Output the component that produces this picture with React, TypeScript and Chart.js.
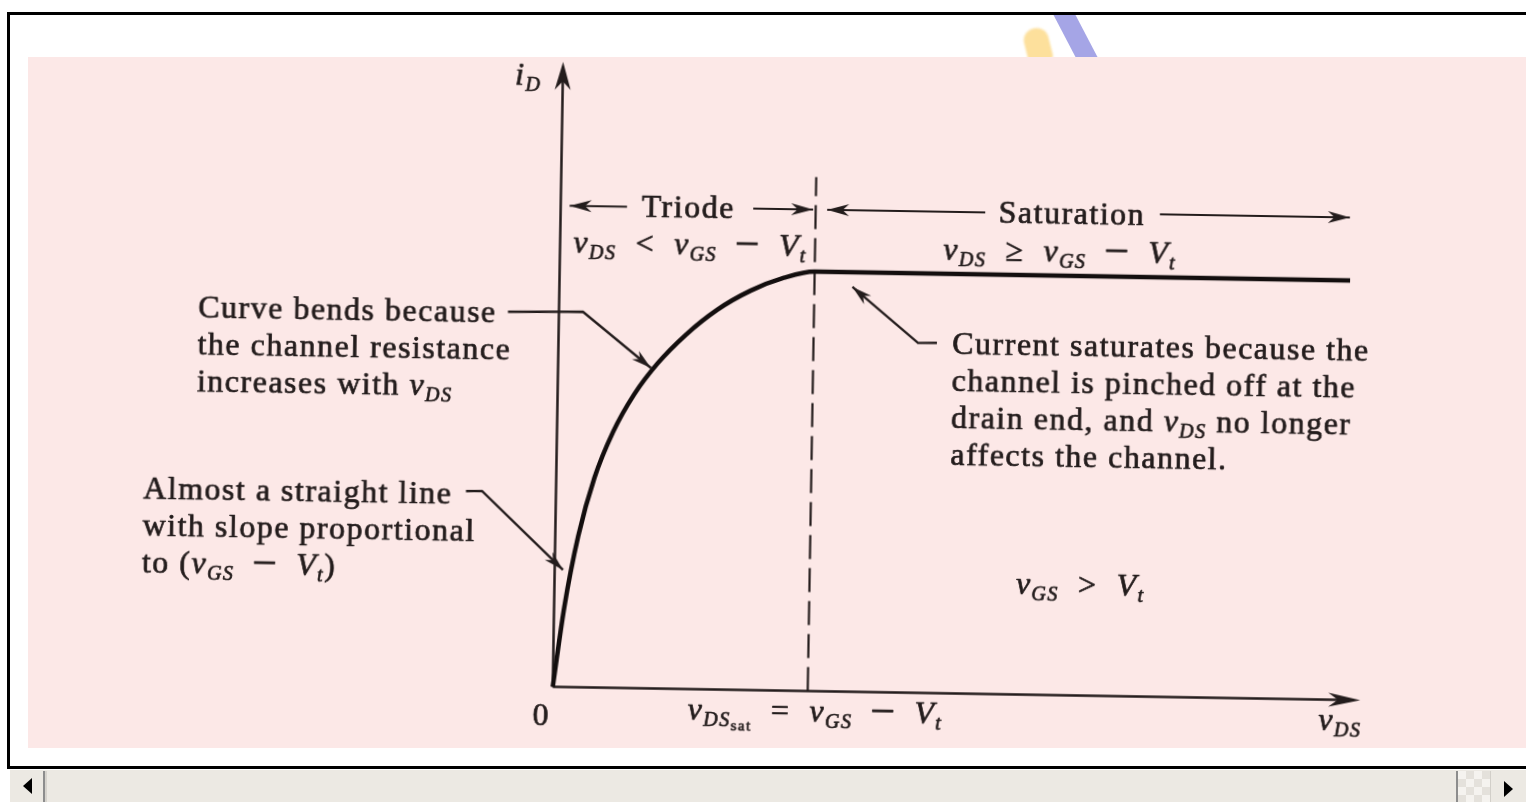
import React, { useEffect, useRef } from "react";
import { Chart, registerables } from "chart.js";

Chart.register(...registerables);

// Output characteristic of an enhancement MOSFET, normalized:
// v_DS in units of v_DSsat, i_D in units of the saturation current.
const TRIODE_VDS = [0, 0.04, 0.09, 0.15, 0.22, 0.3, 0.39, 0.5, 0.62, 0.75, 0.88, 1.0];
const TRIODE_ID = [0, 0.19, 0.36, 0.5, 0.61, 0.7, 0.775, 0.845, 0.905, 0.952, 0.984, 1.0];
const SATURATION_VDS = [1.0, 3.1];
const SATURATION_ID = [1.0, 1.0];
const VDS_SAT = 1.0;

// Axis extents (arrow tips) and visible window
const X_AXIS_END = 3.167;
const Y_AXIS_END = 1.49;
const X_MAX = 3.2;
const Y_MAX = 1.5;
const DASH_TOP = 1.225;

// Rich text: [text, style] with n = roman, i = italic, s = italic subscript,
// ss = small roman sub-subscript, m = enlarged operator
type Seg = [string, string];

const MINUS = "\u200A − \u200A";
const ORIGIN_LABEL = "0";
const Y_AXIS_LABEL: Seg[] = [["i", "i"], ["D", "s"]];
const X_AXIS_LABEL: Seg[] = [["v", "i"], ["DS", "s"]];
const VDS_SAT_LABEL: Seg[] = [["v", "i"], ["DS", "s"], ["sat", "ss"], ["  =  ", "n"], ["v", "i"], ["GS", "s"], [MINUS, "m"], ["V", "i"], ["t", "s"]];
const REGION_NAMES = ["Triode", "Saturation"];
const TRIODE_CONDITION: Seg[] = [["v", "i"], ["DS", "s"], ["  <  ", "n"], ["v", "i"], ["GS", "s"], [MINUS, "m"], ["V", "i"], ["t", "s"]];
const SATURATION_CONDITION: Seg[] = [["v", "i"], ["DS", "s"], ["  ≥  ", "n"], ["v", "i"], ["GS", "s"], [MINUS, "m"], ["V", "i"], ["t", "s"]];
const GATE_CONDITION: Seg[] = [["v", "i"], ["GS", "s"], ["  >  ", "n"], ["V", "i"], ["t", "s"]];

const NOTE_BENDS: Seg[][] = [
  [["Curve bends because", "n"]],
  [["the channel resistance", "n"]],
  [["increases with ", "n"], ["v", "i"], ["DS", "s"]],
];
const NOTE_LINEAR: Seg[][] = [
  [["Almost a straight line", "n"]],
  [["with slope proportional", "n"]],
  [["to (", "n"], ["v", "i"], ["GS", "s"], [MINUS, "m"], ["V", "i"], ["t", "s"], [")", "n"]],
];
const NOTE_SATURATES: Seg[][] = [
  [["Current saturates because the", "n"]],
  [["channel is pinched off at the", "n"]],
  [["drain end, and ", "n"], ["v", "i"], ["DS", "s"], [" no longer", "n"]],
  [["affects the channel.", "n"]],
];

const INK = "#231c1c";
const CURVE_INK = "#130e0e";
const FAMILY = '"Liberation Serif", "Times New Roman", serif';
const LINE_H = 37;

function fontOf(style: string) {
  if (style === "i") return `italic 32px ${FAMILY}`;
  if (style === "s") return `italic 20px ${FAMILY}`;
  if (style === "ss") return `15px ${FAMILY}`;
  if (style === "m") return `44px ${FAMILY}`;
  return `32px ${FAMILY}`;
}
function dyOf(style: string) {
  if (style === "s") return 6;
  if (style === "ss") return 10;
  if (style === "m") return 3;
  return 0;
}

function drawRich(ctx: CanvasRenderingContext2D, segs: Seg[], x: number, y: number, align: "left" | "center") {
  let total = 0;
  for (const [t, st] of segs) {
    ctx.font = fontOf(st);
    total += ctx.measureText(t).width;
  }
  let cx = align === "center" ? x - total / 2 : x;
  ctx.save();
  ctx.lineWidth = 0.7;
  ctx.lineJoin = "round";
  for (const [t, st] of segs) {
    ctx.font = fontOf(st);
    ctx.fillText(t, cx, y + dyOf(st));
    ctx.strokeText(t, cx, y + dyOf(st));
    cx += ctx.measureText(t).width;
  }
  ctx.restore();
}

function drawBlock(ctx: CanvasRenderingContext2D, lines: Seg[][], x: number, y: number) {
  lines.forEach((ln, i) => drawRich(ctx, ln, x, y + i * LINE_H, "left"));
}

function arrowHead(ctx: CanvasRenderingContext2D, tx: number, ty: number, fx: number, fy: number, len: number, half: number) {
  const a = Math.atan2(ty - fy, tx - fx);
  const ux = Math.cos(a), uy = Math.sin(a);
  const px = -uy, py = ux;
  ctx.beginPath();
  ctx.moveTo(tx, ty);
  ctx.lineTo(tx - ux * len + px * half, ty - uy * len + py * half);
  ctx.lineTo(tx - ux * len * 0.7, ty - uy * len * 0.7);
  ctx.lineTo(tx - ux * len - px * half, ty - uy * len - py * half);
  ctx.closePath();
  ctx.fill();
}

// Polyline leader ending in an arrowhead, given in data coordinates
function leader(ctx: CanvasRenderingContext2D, pts: number[][], X: (v: number) => number, Y: (v: number) => number) {
  ctx.beginPath();
  pts.forEach(([a, b], i) => (i === 0 ? ctx.moveTo(X(a), Y(b)) : ctx.lineTo(X(a), Y(b))));
  ctx.stroke();
  const n = pts.length;
  arrowHead(ctx, X(pts[n - 1][0]), Y(pts[n - 1][1]), X(pts[n - 2][0]), Y(pts[n - 2][1]), 20, 5.5);
}

function regionArrow(ctx: CanvasRenderingContext2D, from: number, to: number, y: number, X: (v: number) => number, Y: (v: number) => number) {
  ctx.beginPath();
  ctx.moveTo(X(from), Y(y));
  ctx.lineTo(X(to), Y(y));
  ctx.stroke();
  arrowHead(ctx, X(to), Y(y), X(from), Y(y), 22, 6);
}

const figurePlugin = {
  id: "mosfetFigure",
  beforeDatasetsDraw(chart: any) {
    const ctx: CanvasRenderingContext2D = chart.ctx;
    const X = (v: number) => chart.scales.x.getPixelForValue(v);
    const Y = (v: number) => chart.scales.y.getPixelForValue(v);
    ctx.save();
    ctx.strokeStyle = INK;
    ctx.fillStyle = INK;
    ctx.lineWidth = 2.5;
    // axes
    ctx.beginPath();
    ctx.moveTo(X(0), Y(0));
    ctx.lineTo(X(0), Y(Y_AXIS_END) + 10);
    ctx.moveTo(X(0), Y(0));
    ctx.lineTo(X(X_AXIS_END) - 10, Y(0));
    ctx.stroke();
    arrowHead(ctx, X(0), Y(Y_AXIS_END), X(0), Y(0), 28, 8);
    arrowHead(ctx, X(X_AXIS_END), Y(0), X(0), Y(0), 32, 7);
    // boundary between triode and saturation
    ctx.setLineDash([24, 9]);
    ctx.lineWidth = 2.2;
    ctx.beginPath();
    ctx.moveTo(X(VDS_SAT), Y(0));
    ctx.lineTo(X(VDS_SAT), Y(DASH_TOP));
    ctx.stroke();
    ctx.restore();
  },
  afterDraw(chart: any) {
    const ctx: CanvasRenderingContext2D = chart.ctx;
    const X = (v: number) => chart.scales.x.getPixelForValue(v);
    const Y = (v: number) => chart.scales.y.getPixelForValue(v);
    ctx.save();
    ctx.fillStyle = INK;
    ctx.strokeStyle = INK;
    ctx.textBaseline = "alphabetic";
    (ctx as any).letterSpacing = "1.5px";

    // axis labels
    drawRich(ctx, Y_AXIS_LABEL, X(-0.187), Y(1.433), "left");
    drawRich(ctx, [[ORIGIN_LABEL, "n"]], X(-0.0435), Y(-0.092), "center");
    drawRich(ctx, VDS_SAT_LABEL, X(1.03), Y(-0.0736), "center");
    drawRich(ctx, X_AXIS_LABEL, X(3.004), Y(-0.073), "left");

    // operating regions
    ctx.lineWidth = 2;
    regionArrow(ctx, 0.26, 0.035, 1.147, X, Y);
    regionArrow(ctx, 0.755, 0.99, 1.148, X, Y);
    regionArrow(ctx, 1.665, 1.045, 1.148, X, Y);
    regionArrow(ctx, 2.35, 3.095, 1.15, X, Y);
    drawRich(ctx, [[REGION_NAMES[0], "n"]], X(0.5), Y(1.123), "center");
    drawRich(ctx, [[REGION_NAMES[1], "n"]], X(2.005), Y(1.123), "center");
    drawRich(ctx, TRIODE_CONDITION, X(0.51), Y(1.035), "center");
    drawRich(ctx, SATURATION_CONDITION, X(1.96), Y(1.034), "center");
    drawRich(ctx, GATE_CONDITION, X(2.062), Y(0.24), "center");

    // explanatory notes
    drawBlock(ctx, NOTE_BENDS, X(-1.415), Y(0.866));
    drawBlock(ctx, NOTE_LINEAR, X(-1.619), Y(0.432));
    drawBlock(ctx, NOTE_SATURATES, X(1.544), Y(0.809));

    ctx.lineWidth = 2.4;
    leader(ctx, [[-0.2, 0.892], [0.094, 0.895], [0.364, 0.764]], X, Y);
    leader(ctx, [[-0.353, 0.463], [-0.29, 0.464], [0.0325, 0.279]], X, Y);
    leader(ctx, [[1.484, 0.835], [1.41, 0.834], [1.149, 0.965]], X, Y);
    ctx.restore();
  },
};

const CANVAS_W = 1498;
const CANVAS_H = 691;
const ORIGIN_PX = { x: 529.5, y: 633.5 };
const UNIT_PX = { x: 255, y: 419.5 };

export default function App() {
  const ref = useRef<HTMLCanvasElement | null>(null);

  useEffect(() => {
    if (!ref.current) return;
    const points = [
      ...TRIODE_VDS.map((x, i) => ({ x, y: TRIODE_ID[i] })),
      ...SATURATION_VDS.slice(1).map((x, i) => ({ x, y: SATURATION_ID[i + 1] })),
    ];
    const chart = new Chart(ref.current, {
      type: "line",
      data: {
        datasets: [
          {
            data: points,
            borderColor: CURVE_INK,
            borderWidth: 4.5,
            pointRadius: 0,
            cubicInterpolationMode: "monotone",
            fill: false,
            clip: false,
          } as any,
        ],
      },
      options: {
        animation: false,
        responsive: false,
        maintainAspectRatio: false,
        events: [],
        layout: {
          padding: {
            left: ORIGIN_PX.x,
            right: CANVAS_W - ORIGIN_PX.x - UNIT_PX.x * X_MAX,
            top: ORIGIN_PX.y - UNIT_PX.y * Y_MAX,
            bottom: CANVAS_H - ORIGIN_PX.y,
          },
        },
        scales: {
          x: { type: "linear", min: 0, max: X_MAX, display: false },
          y: { type: "linear", min: 0, max: Y_MAX, display: false },
        },
        plugins: { legend: { display: false }, tooltip: { enabled: false } },
      },
      plugins: [figurePlugin],
    });
    return () => chart.destroy();
  }, []);

  return (
    <div style={{ position: "fixed", left: 0, top: 0, width: 1526, height: 802, overflow: "hidden", background: "#ffffff" }}>
      {/* highlighter strokes on the page above the figure */}
      <div style={{ position: "absolute", left: 1025, top: 28, width: 25, height: 34, background: "#fde09c", borderRadius: "12px 12px 4px 4px", transform: "rotate(-14deg)", filter: "blur(0.8px)" }} />
      <div style={{ position: "absolute", left: 1050, top: 14, width: 50, height: 44, background: "#a5a5e6", clipPath: "polygon(3px 0, 25px 0, 48px 44px, 26px 44px)" }} />
      {/* frame */}
      <div style={{ position: "absolute", left: 7, top: 12, width: 1600, height: 757, border: "3px solid #000", boxSizing: "border-box" }} />
      {/* figure background */}
      <div style={{ position: "absolute", left: 28, top: 57, width: CANVAS_W, height: CANVAS_H, background: "#fce8e7" }} />
      <canvas
        ref={ref}
        width={CANVAS_W}
        height={CANVAS_H}
        style={{ position: "absolute", left: 28, top: 57, width: CANVAS_W, height: CANVAS_H, transform: "rotate(0.95deg)", transformOrigin: "50% 50%" }}
      />
      {/* horizontal scrollbar */}
      <div style={{ position: "absolute", left: 10, top: 770, width: 1516, height: 32, background: "#ece9e3" }} />
      <div style={{ position: "absolute", left: 43, top: 771, width: 2, height: 31, background: "#8d8d8d" }} />
      <div style={{ position: "absolute", left: 45, top: 771, width: 2, height: 31, background: "#d6d3cd" }} />
      <div style={{ position: "absolute", left: 23, top: 778, width: 0, height: 0, borderTop: "8px solid transparent", borderBottom: "8px solid transparent", borderRight: "9px solid #000" }} />
      <div style={{ position: "absolute", left: 1456, top: 771, width: 2, height: 31, background: "#8d8d8d" }} />
      <div
        style={{
          position: "absolute", left: 1458, top: 771, width: 32, height: 31,
          backgroundColor: "#f3f1ed",
          backgroundImage: "repeating-conic-gradient(#e4e1db 0% 25%, #f5f3ef 0% 50%)",
          backgroundSize: "16px 16px",
        }}
      />
      <div style={{ position: "absolute", left: 1490, top: 771, width: 36, height: 31, background: "#ece9e3", borderLeft: "1px solid #d2cfc9", boxSizing: "border-box" }} />
      <div style={{ position: "absolute", left: 1504, top: 781, width: 0, height: 0, borderTop: "8px solid transparent", borderBottom: "8px solid transparent", borderLeft: "9px solid #000" }} />
    </div>
  );
}
